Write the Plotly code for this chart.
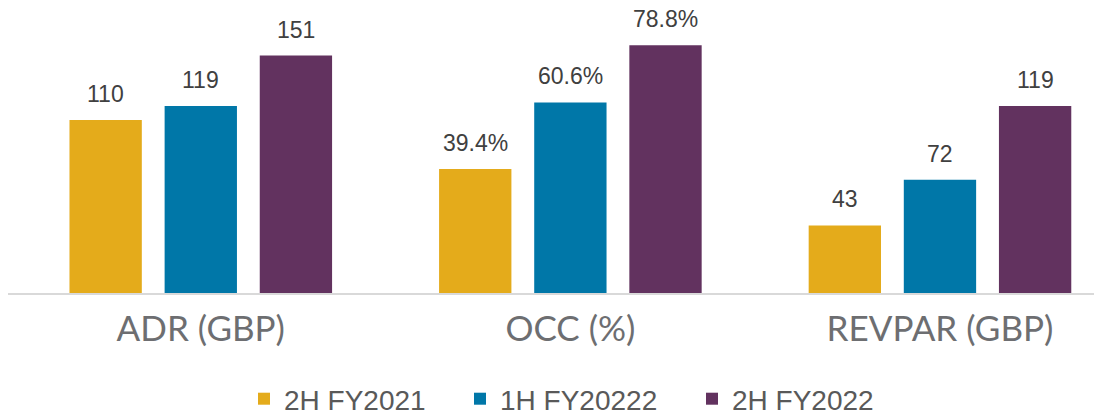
import plotly.graph_objects as go

categories = ["ADR (GBP)", "OCC (%)", "REVPAR (GBP)"]
series_names = ["2H FY2021", "1H FY20222", "2H FY2022"]
values_2h_fy2021 = [110, 39.4, 43]
values_1h_fy2022 = [119, 60.6, 72]
values_2h_fy2022 = [151, 78.8, 119]

series_values = [values_2h_fy2021, values_1h_fy2022, values_2h_fy2022]
colors = ["#E4AB1B", "#0077A8", "#62325F"]

# layout geometry (category units / pixels)
bar_width = 0.1957
centre_offsets = [-0.2574, 0.0, 0.2574]
legend_widths = [171, 187, 150]
occ_index = 1

label_font = dict(family="Liberation Sans, Arial, sans-serif", size=23, color="#404040")

fig = go.Figure()
annotations = []
for s, (name, vals, col) in enumerate(zip(series_names, series_values, colors)):
    off = centre_offsets[s] - bar_width / 2
    main_idx = [i for i in range(len(categories)) if i != occ_index]
    fig.add_trace(go.Bar(
        x=[categories[i] for i in main_idx],
        y=[vals[i] for i in main_idx],
        name=name, legendgroup=name, showlegend=True,
        legendwidth=legend_widths[s],
        marker=dict(color=col, line=dict(width=0)),
        width=bar_width, offset=off,
        xaxis="x", yaxis="y", hoverinfo="skip",
    ))
    fig.add_trace(go.Bar(
        x=[categories[occ_index]],
        y=[vals[occ_index]],
        name=name, legendgroup=name, showlegend=False,
        marker=dict(color=col, line=dict(width=0)),
        width=bar_width, offset=off,
        xaxis="x", yaxis="y2", hoverinfo="skip",
    ))
    for i, v in enumerate(vals):
        txt = f"{v:.1f}%" if i == occ_index else f"{v:g}"
        annotations.append(dict(
            x=i + centre_offsets[s], y=v,
            xref="x", yref="y2" if i == occ_index else "y",
            text=txt, showarrow=False, yanchor="bottom", xanchor="center",
            yshift=11, font=label_font,
        ))

fig.update_layout(
    width=1094, height=409,
    margin=dict(l=0, r=0, t=2, b=124),
    paper_bgcolor="white", plot_bgcolor="white",
    barmode="overlay",
    showlegend=True,
    legend=dict(
        orientation="h", xref="container", yref="container",
        x=236 / 1094, y=0.044, xanchor="left", yanchor="middle",
        font=dict(family="Liberation Sans, Arial, sans-serif", size=28, color="#595959"),
        itemwidth=30, traceorder="normal",
    ),
    xaxis=dict(
        type="category", categoryorder="array", categoryarray=categories,
        range=[-0.5216, 2.4384],
        showline=True, linecolor="#D9D9D9", linewidth=1.5,
        showgrid=False, zeroline=False,
        ticks="outside", ticklen=4, tickcolor="rgba(0,0,0,0)",
        tickfont=dict(family="Lato, sans-serif", size=35, color="#6D6E71"),
        fixedrange=True,
    ),
    yaxis=dict(range=[0, 180], visible=False, showgrid=False, zeroline=False, fixedrange=True),
    yaxis2=dict(range=[0, 90], visible=False, showgrid=False, zeroline=False,
                overlaying="y", side="right", fixedrange=True),
    annotations=annotations,
)

fig.write_html("out.html")
